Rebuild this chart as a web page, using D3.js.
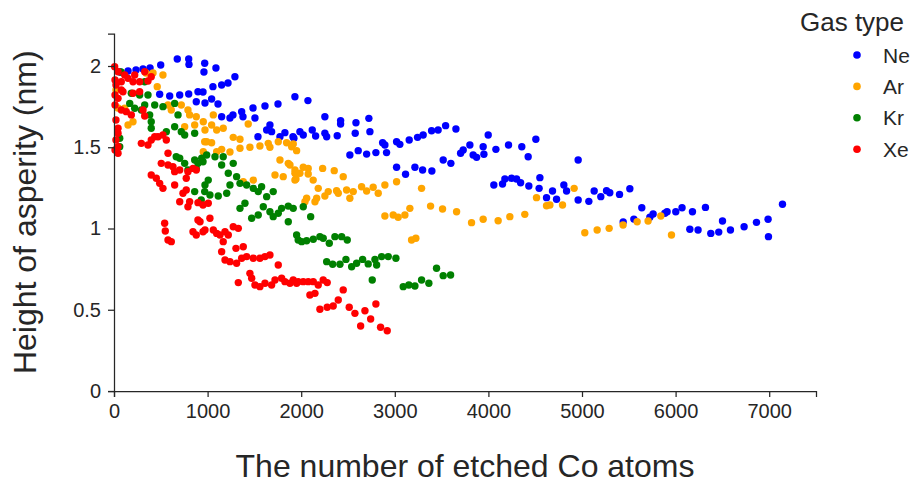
<!DOCTYPE html>
<html>
<head>
<meta charset="utf-8">
<script src="https://cdn.jsdelivr.net/npm/d3@7"></script>
<style>
  body { margin: 0; background: #fff; }
  svg text { font-family: "Liberation Sans", Arial, sans-serif; fill: #262626; }
</style>
</head>
<body>
<svg id="chart" width="914" height="485"></svg>
<script>
const gasTypes = ["Ne", "Ar", "Kr", "Xe"];
const gasColors = ["blue", "orange", "green", "red"];
const xTicks = [0, 1000, 2000, 3000, 4000, 5000, 6000, 7000];
const yTicks = [0, 0.5, 1, 1.5, 2];

// [etched atoms, height nm]
const ne = [
  [64,1.963],[150,1.969],[235,1.975],[310,1.982],[385,1.988],[499,2.006],[676,2.043],[798,2.043],
  [801,2.010],[969,2.017],[961,1.963],[1089,1.988],[1292,1.934],[1218,1.895],[1150,1.883],[1057,1.873],
  [488,1.826],[595,1.815],[702,1.822],[798,1.828],[897,1.842],[879,1.780],[951,1.840],[972,1.772],
  [1043,1.797],[1111,1.766],[1933,1.811],[1752,1.766],[1613,1.754],[1485,1.742],[1364,1.719],[1271,1.699],
  [1150,1.688],[1239,1.680],[1378,1.688],[1506,1.680],[1666,1.637],[1631,1.606],[1684,1.596],[1826,1.590],
  [1773,1.565],[1912,1.565],[1538,1.565],[1986,1.596],[2072,1.787],[2253,1.688],[2421,1.664],[2421,1.643],
  [2585,1.651],[2723,1.678],[2734,1.596],[2577,1.586],[2385,1.571],[2253,1.586],[2272,1.565],[2154,1.569],
  [2118,1.606],[2022,1.575],[1922,1.555],[2520,1.452],[2609,1.479],[2699,1.458],[2798,1.467],[2912,1.467],
  [2870,1.528],[2894,1.514],[3019,1.534],[3054,1.518],[3154,1.545],[3243,1.561],[3019,1.377],[3115,1.334],
  [3215,1.377],[3303,1.575],[3393,1.602],[3463,1.606],[3543,1.633],[3653,1.612],[3998,1.575],[3802,1.514],
  [3944,1.503],[3731,1.483],[3703,1.463],[3837,1.452],[3874,1.438],[3952,1.457],[4080,1.487],[4215,1.514],
  [4357,1.503],[4425,1.442],[4507,1.549],[3517,1.422],[3599,1.401],[3297,1.360],[3396,1.354],[4058,1.268],
  [4151,1.274],[4176,1.305],[4247,1.309],[4301,1.305],[4344,1.282],[4432,1.262],[4550,1.313],[4542,1.247],
  [4685,1.231],[4621,1.190],[4728,1.180],[4959,1.422],[4806,1.268],[4835,1.231],[4959,1.175],[5073,1.167],
  [5130,1.231],[5201,1.196],[5262,1.233],[5297,1.220],[5401,1.210],[5511,1.245],[5639,1.128],[5554,1.058],
  [5440,1.040],[5725,1.069],[5760,1.089],[5885,1.094],[5909,1.103],[6002,1.103],[6069,1.128],[6180,1.103],
  [6152,0.995],[6240,0.991],[6319,1.130],[6376,0.970],[6461,0.978],[6501,1.046],[6586,0.991],[6732,1.011],
  [6864,1.038],[6988,1.057],[6992,0.950],[7142,1.149]
];

const ar = [
  [342,1.957],[417,1.957],[523,1.945],[462,1.873],[577,1.760],[612,1.729],[719,1.760],[790,1.729],
  [808,1.699],[879,1.688],[43,1.742],[114,1.740],[21,1.852],[150,1.637],[203,1.657],[755,1.626],
  [862,1.637],[969,1.534],[1061,1.699],[954,1.657],[1043,1.637],[1167,1.617],[972,1.606],[1097,1.606],
  [1434,1.643],[1274,1.561],[1346,1.549],[990,1.534],[1043,1.528],[1150,1.487],[1346,1.494],[1452,1.500],
  [1559,1.508],[1648,1.524],[1755,1.534],[1844,1.528],[1915,1.520],[1666,1.500],[954,1.473],[1097,1.473],
  [1239,1.471],[1773,1.422],[1862,1.401],[1720,1.329],[1808,1.319],[1933,1.340],[1933,1.298],[1381,1.288],
  [1488,1.298],[1898,1.503],[1951,1.479],[1880,1.391],[1933,1.360],[2022,1.377],[2075,1.370],[1986,1.340],
  [2075,1.335],[2229,1.370],[2128,1.298],[1944,1.305],[2353,1.356],[2449,1.319],[2182,1.247],[2289,1.227],
  [2253,1.200],[2378,1.233],[2396,1.217],[2485,1.237],[2556,1.227],[2645,1.257],[2699,1.231],[2769,1.254],
  [2823,1.217],[2894,1.268],[3019,1.288],[2520,1.186],[2058,1.186],[2165,1.186],[2040,1.165],[2147,1.165],
  [2894,1.077],[2983,1.083],[3036,1.069],[3108,1.083],[3161,1.124],[3179,0.929],[3225,0.940],[3286,1.247],
  [3382,1.138],[3510,1.120],[3660,1.103],[3820,1.036],[3944,1.057],[4104,1.048],[4229,1.073],[4389,1.087],
  [4514,1.190],[4621,1.140],[4657,1.145],[4792,1.145],[4916,1.247],[5030,0.974],[5162,0.991],[5290,1.001],
  [5439,1.022],[5589,1.042],[5706,1.046],[5842,1.077],[5956,0.960]
];

const kr = [
  [75,1.963],[328,1.903],[185,1.832],[274,1.822],[363,1.822],[328,1.760],[435,1.760],[523,1.750],
  [648,1.770],[168,1.770],[221,1.740],[292,1.729],[381,1.699],[684,1.699],[61,1.555],[61,1.503],
  [398,1.657],[398,1.617],[559,1.596],[648,1.626],[719,1.596],[755,1.575],[862,1.586],[665,1.442],
  [702,1.432],[755,1.401],[862,1.422],[897,1.401],[951,1.411],[790,1.360],[879,1.370],[862,1.227],
  [932,1.175],[969,1.227],[937,1.432],[990,1.452],[1079,1.442],[1167,1.442],[1150,1.391],[1274,1.401],
  [1221,1.340],[1310,1.319],[1007,1.298],[972,1.268],[1025,1.206],[1114,1.200],[1204,1.217],[1239,1.268],
  [1346,1.278],[1417,1.268],[1488,1.247],[1541,1.227],[1577,1.257],[1631,1.196],[1701,1.227],[1399,1.155],
  [1346,1.124],[1471,1.063],[1541,1.083],[1595,1.134],[1666,1.103],[1701,1.073],[1755,1.094],[1791,1.124],
  [1862,1.138],[1915,1.124],[1862,1.042],[1951,0.960],[1968,0.929],[2022,1.134],[2101,1.073],[2005,0.919],
  [2058,0.925],[2129,0.934],[2200,0.950],[2235,0.940],[2300,0.909],[2360,0.950],[2432,0.950],[2492,0.929],
  [2272,0.796],[2336,0.780],[2414,0.780],[2478,0.810],[2539,0.765],[2592,0.786],[2656,0.810],[2716,0.782],
  [2788,0.810],[2806,0.775],[2859,0.827],[2930,0.827],[3012,0.817],[2759,0.683],[3090,0.642],[3150,0.652],
  [3215,0.646],[3286,0.683],[3364,0.663],[3446,0.755],[3517,0.710],[3596,0.714]
];

const xe = [
  [7,1.996],[43,1.965],[114,1.945],[221,1.945],[328,1.965],[150,1.924],[78,1.903],[203,1.903],
  [274,1.903],[363,1.908],[398,1.934],[78,1.852],[96,1.842],[43,1.801],[274,1.842],[203,1.832],
  [78,1.729],[131,1.719],[185,1.699],[310,1.729],[328,1.692],[11,1.914],[21,1.883],[11,1.822],
  [11,1.760],[21,1.668],[43,1.617],[43,1.586],[43,1.503],[43,1.463],[11,1.483],[21,1.545],
  [292,1.524],[363,1.514],[398,1.545],[470,1.565],[523,1.575],[559,1.545],[435,1.565],[577,1.463],
  [505,1.401],[577,1.391],[630,1.380],[702,1.360],[648,1.350],[790,1.350],[844,1.370],[879,1.360],
  [398,1.329],[452,1.309],[488,1.278],[523,1.247],[648,1.268],[772,1.309],[772,1.237],[737,1.217],
  [702,1.165],[808,1.165],[790,1.134],[897,1.159],[951,1.145],[541,1.032],[548,0.985],[577,0.929],
  [612,0.919],[897,1.052],[844,0.980],[879,0.960],[951,0.980],[1007,1.155],[919,1.042],[1025,1.063],
  [972,0.991],[1061,0.991],[1097,0.970],[1132,0.960],[1186,0.980],[1274,1.011],[1328,1.001],[1221,0.960],
  [1167,0.919],[1303,0.878],[1381,0.888],[1150,0.857],[1186,0.806],[1239,0.796],[1310,0.786],[1364,0.817],
  [1417,0.827],[1488,0.817],[1559,0.817],[1613,0.827],[1666,0.837],[1755,0.775],[1452,0.724],[1471,0.694],
  [1328,0.667],[1506,0.652],[1559,0.642],[1613,0.663],[1684,0.652],[1791,0.694],[1826,0.673],[1880,0.663],
  [1951,0.663],[1720,0.683],[1915,0.683],[1968,0.673],[2022,0.673],[2075,0.673],[2129,0.673],[2182,0.652],
  [2235,0.683],[2278,0.667],[2093,0.591],[2147,0.601],[2449,0.622],[2396,0.560],[2342,0.523],[2278,0.515],
  [2200,0.503],[2513,0.515],[2574,0.478],[2681,0.494],[2798,0.535],[2742,0.443],[2635,0.400],[2848,0.392],
  [2919,0.371]
];

const seriesData = [ne, ar, kr, xe];

const svg = d3.select("#chart");
const ink = "#262626";

const x = d3.scaleLinear().domain([0, 7500]).range([114, 816]);
const y = d3.scaleLinear().domain([0, 2.2]).range([391, 33.5]);

const xAxis = (g) =>
  g
    .attr("transform", `translate(0,${y(0)})`)
    .call(d3.axisBottom(x).tickValues(xTicks).tickFormat(d3.format("d")).tickSizeOuter(0).tickSize(6).tickPadding(7))
    .call((g) => g.select(".domain").attr("stroke", ink).attr("stroke-width", 1.25))
    .call((g) => g.selectAll(".tick line").attr("stroke", ink).attr("stroke-width", 1.25))
    .call((g) => g.selectAll("text").attr("font-size", 20).attr("fill", ink));

const yAxis = (g) =>
  g
    .attr("transform", `translate(${x(0)},0)`)
    .call(d3.axisLeft(y).tickValues(yTicks).tickFormat((d) => String(d)).tickSizeOuter(0).tickSize(6).tickPadding(7))
    .call((g) => g.select(".domain").attr("stroke", ink).attr("stroke-width", 1.25))
    .call((g) => g.selectAll(".tick line").attr("stroke", ink).attr("stroke-width", 1.25))
    .call((g) => g.selectAll("text").attr("font-size", 20).attr("fill", ink));

// points, drawn in series order like the original
gasTypes.forEach((gas, i) => {
  svg
    .append("g")
    .attr("class", `pts-${gas}`)
    .selectAll("circle")
    .data(seriesData[i])
    .join("circle")
    .attr("cx", (d) => x(d[0]))
    .attr("cy", (d) => y(d[1]))
    .attr("r", 3.7)
    .attr("fill", gasColors[i]);
});

svg.append("g").attr("class", "x-axis").call(xAxis);
svg.append("g").attr("class", "y-axis").call(yAxis);

svg
  .append("text")
  .attr("x", 465)
  .attr("y", 477)
  .attr("text-anchor", "middle")
  .attr("font-size", 32)
  .text("The number of etched Co atoms");

svg
  .append("text")
  .attr("transform", `translate(36,${(y(0) + y(2.2)) / 2}) rotate(-90)`)
  .attr("text-anchor", "middle")
  .attr("font-size", 32)
  .text("Height of asperity (nm)");

// legend
const legend = svg.append("g").attr("class", "legend");
legend
  .append("text")
  .attr("x", 852)
  .attr("y", 31)
  .attr("text-anchor", "middle")
  .attr("font-size", 26)
  .text("Gas type");

const item = legend
  .selectAll("g.item")
  .data(gasTypes)
  .join("g")
  .attr("class", "item")
  .attr("transform", (d, i) => `translate(857,${55 + i * 31.4})`);
item.append("circle").attr("r", 3.8).attr("fill", (d, i) => gasColors[i]);
item
  .append("text")
  .attr("x", 26)
  .attr("dy", "0.36em")
  .attr("font-size", 21)
  .text((d) => d);
</script>
</body>
</html>
